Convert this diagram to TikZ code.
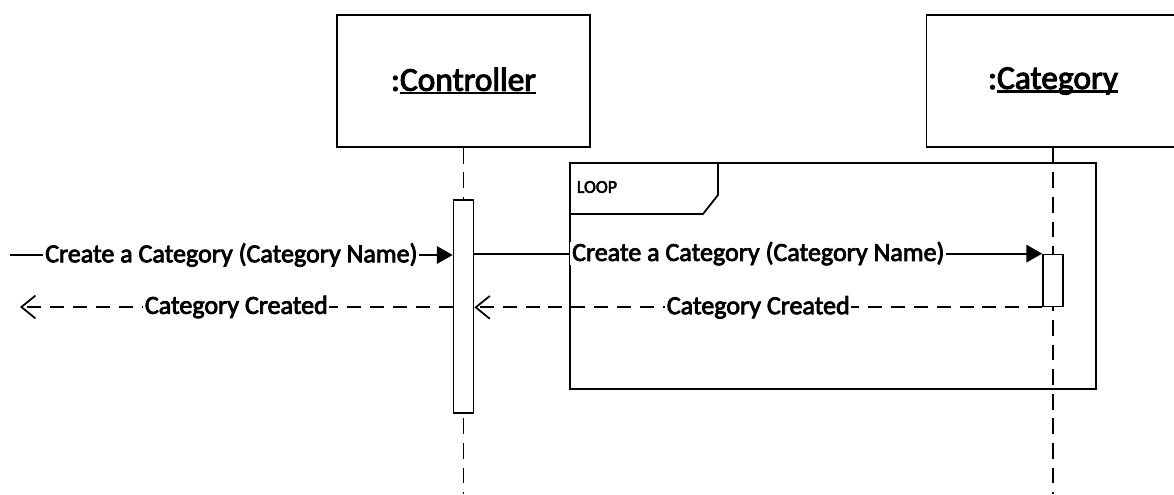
\documentclass[tikz,border=0pt]{standalone}
\usepackage{fontspec}
\setmainfont{Carlito}
\newfontfamily\diagfont[FakeBold=3]{Carlito}
\usetikzlibrary{arrows.meta}
\newcommand{\objname}[1]{\setbox0\hbox{#1}\rlap{\rule[-0.11em]{\wd0}{0.07em}}\box0}

\begin{document}
\begin{tikzpicture}[x=0.02cm,y=-0.02cm,line width=1pt,
  lifebox/.style={draw,minimum width=5.06cm,minimum height=2.64cm,font=\diagfont\fontsize{19}{22}\selectfont},
  lifeline/.style={dash pattern=on 9pt off 5pt},
  actbar/.style={draw,fill=white,minimum width=0.4cm,inner sep=0pt},
  callmsg/.style={-{Triangle[length=9pt,width=10pt]}},
  replymsg/.style={dash pattern=on 8pt off 5pt,-{Straight Barb[length=8pt,width=13pt]}},
  msglabel/.style={fill=white,inner xsep=1pt,inner ysep=0pt,font=\diagfont\fontsize{14.8}{17}\selectfont}]
\clip (0,0) rectangle (1174,494);
\fill[white] (0,0) rectangle (1174,494);
% loop frame
\node[draw,minimum width=10.52cm,minimum height=4.52cm,anchor=north west] (loop) at (569,162) {};
\draw (569,214) -- (703,214) -- (718,195) -- (718,162);
\node[anchor=west,inner sep=0pt,font=\diagfont\fontsize{10.2}{12}\selectfont] (looptag) at (576,187) {LOOP};
% lifelines
\node[lifebox] (ctrl) at (463.5,81) {:\objname{Controller}};
\node[lifebox] (cat) at (1053,81) {:\objname{Category}};
\coordinate (ctrlend) at (463.5,494);
\coordinate (catend) at (1053,494);
\draw[lifeline] (ctrl.south) -- (ctrlend);
\draw[lifeline] (cat.south) -- (catend);
\node[actbar,minimum height=4.26cm] (ctrlbar) at (463.5,306.5) {};
\node[actbar,minimum height=1.04cm] (catbar) at (1053,280.5) {};
% messages
\coordinate (caller) at (10,255);
\coordinate (callerback) at (20,307);
\draw[callmsg] (caller) -- (ctrlbar.west |- caller) node[msglabel,midway] {Create a Category (Category Name)};
\draw[callmsg] (ctrlbar.east |- catbar.north west) -- (catbar.north west) node[msglabel,midway] {Create a Category (Category Name)};
\draw[replymsg] (catbar.south west) -- (ctrlbar.east |- catbar.south west) node[msglabel,midway] {Category Created};
\draw[replymsg] (ctrlbar.west |- callerback) -- (callerback) node[msglabel,midway] {Category Created};
\end{tikzpicture}
\end{document}
